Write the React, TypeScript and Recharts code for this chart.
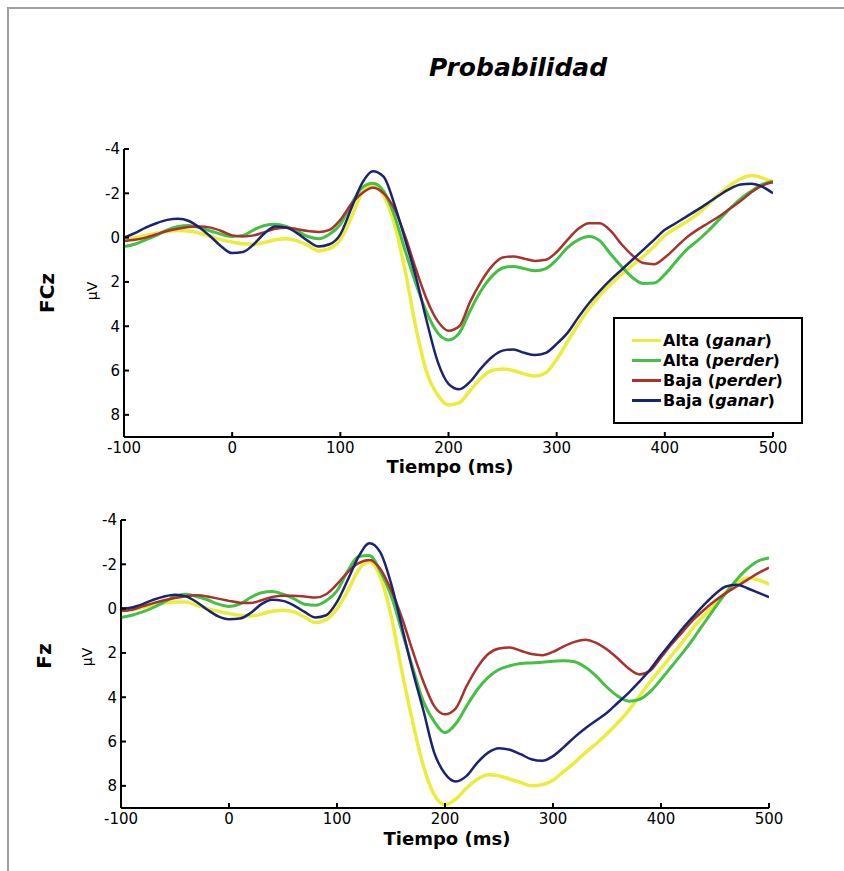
import { LineChart, Line, XAxis, YAxis } from 'recharts';

// tiempo en ms, paso de 10 ms
const tiempo = [
  -100, -90, -80, -70, -60, -50, -40, -30, -20, -10,
  0, 10, 20, 30, 40, 50, 60, 70, 80, 90,
  100, 110, 120, 130, 140, 150, 160, 170, 180, 190,
  200, 210, 220, 230, 240, 250, 260, 270, 280, 290,
  300, 310, 320, 330, 340, 350, 360, 370, 380, 390,
  400, 410, 420, 430, 440, 450, 460, 470, 480, 490, 500,
];
const xTicks = [-100, 0, 100, 200, 300, 400, 500];
const yTicks = [-4, -2, 0, 2, 4, 6, 8];

// FCz (µV)
const fczAltaGanar = [
  0.05, 0.0, -0.1, -0.2, -0.28, -0.32, -0.3, -0.2, -0.05, 0.1,
  0.2, 0.28, 0.3, 0.22, 0.1, 0.05, 0.15, 0.35, 0.6, 0.5,
  0.1, -0.9, -2.0, -2.38, -1.9, -0.6, 1.5, 4.1, 6.1, 7.1,
  7.55, 7.45, 6.9, 6.35, 6.0, 5.93, 6.0, 6.15, 6.25, 6.1,
  5.5, 4.7, 3.9, 3.2, 2.6, 2.1, 1.66, 1.25, 0.85, 0.4,
  -0.1, -0.42, -0.72, -1.05, -1.5, -1.95, -2.35, -2.65, -2.8, -2.7, -2.5,
];
const fczAltaPerder = [
  0.4, 0.3, 0.1, -0.1, -0.35, -0.5, -0.55, -0.45, -0.3, -0.15,
  -0.05, -0.1, -0.35, -0.55, -0.6, -0.5, -0.3, -0.05, 0.05, -0.15,
  -0.6, -1.5, -2.25, -2.45, -2.1, -1.0, 0.6, 2.1, 3.4, 4.3,
  4.62, 4.3, 3.3, 2.4, 1.75, 1.37, 1.3, 1.4, 1.5, 1.4,
  1.0, 0.45, 0.1, -0.05, 0.15, 0.75, 1.3, 1.8, 2.07, 2.05,
  1.66, 1.1, 0.55, 0.15, -0.3, -0.8, -1.3, -1.75, -2.1, -2.4, -2.55,
];
const fczBajaPerder = [
  0.15, 0.1, 0.0, -0.15, -0.3, -0.4, -0.48, -0.5, -0.45, -0.3,
  -0.1, -0.05, -0.1, -0.25, -0.4, -0.45, -0.38, -0.3, -0.25, -0.35,
  -0.8, -1.5, -2.0, -2.25, -2.0, -1.3, -0.05, 1.44, 2.8, 3.77,
  4.2, 4.0, 2.9, 2.0, 1.3, 0.9, 0.85, 0.95, 1.05, 1.0,
  0.65, 0.1, -0.4, -0.65, -0.65, -0.3, 0.3, 0.8, 1.15, 1.2,
  0.9, 0.45, 0.0, -0.35, -0.65, -0.95, -1.3, -1.65, -2.05, -2.35, -2.5,
];
const fczBajaGanar = [
  0.0, -0.2, -0.45, -0.65, -0.8, -0.85, -0.75, -0.45, -0.05, 0.4,
  0.7, 0.65, 0.3, -0.2, -0.5, -0.45, -0.2, 0.15, 0.4, 0.3,
  -0.15, -1.3, -2.45, -3.0, -2.75, -1.5, 0.1, 1.8, 3.8, 5.6,
  6.6, 6.85, 6.5, 5.9, 5.4, 5.1, 5.05, 5.2, 5.3, 5.2,
  4.8, 4.3, 3.6, 2.95, 2.4, 1.9, 1.45, 1.0, 0.55, 0.1,
  -0.35, -0.65, -0.95, -1.25, -1.57, -1.9, -2.2, -2.4, -2.43, -2.3, -2.0,
];

// Fz (µV)
const fzAltaGanar = [
  0.1, 0.05, -0.05, -0.15, -0.25, -0.3, -0.3, -0.15, 0.0, 0.12,
  0.22, 0.3, 0.33, 0.25, 0.12, 0.07, 0.15, 0.38, 0.63, 0.5,
  0.0, -0.8, -1.75, -2.1, -1.45, 0.3, 2.8, 5.1, 7.1, 8.4,
  8.85, 8.6, 8.1, 7.7, 7.5, 7.55, 7.7, 7.85, 8.0, 7.95,
  7.75, 7.35, 6.95, 6.5, 6.1, 5.65, 5.15, 4.6, 3.95, 3.3,
  2.7, 2.1, 1.5, 0.85, 0.3, -0.2, -0.75, -1.15, -1.38, -1.3, -1.1,
];
const fzAltaPerder = [
  0.4, 0.3, 0.15, -0.05, -0.3, -0.55, -0.65, -0.55, -0.4, -0.2,
  -0.1, -0.2, -0.5, -0.72, -0.77, -0.65, -0.45, -0.2, -0.15, -0.35,
  -0.8, -1.7, -2.35, -2.4, -1.7, -0.6, 1.0, 2.65, 4.2, 5.1,
  5.6, 5.2, 4.4, 3.65, 3.1, 2.75, 2.58, 2.48, 2.45, 2.42,
  2.38, 2.35, 2.4, 2.65, 3.05, 3.55, 3.95, 4.18, 4.1, 3.75,
  3.2, 2.6, 2.0, 1.35, 0.65, -0.05, -0.7, -1.3, -1.8, -2.15, -2.28,
];
const fzBajaPerder = [
  0.1, 0.05, -0.1, -0.25, -0.38, -0.48, -0.56, -0.6, -0.55, -0.45,
  -0.35, -0.27, -0.25, -0.38, -0.52, -0.58, -0.58, -0.55, -0.5, -0.65,
  -1.1, -1.65, -2.05, -2.2, -1.8, -0.85, 0.4, 1.9, 3.3, 4.4,
  4.77, 4.5, 3.5, 2.65, 2.05, 1.8, 1.75, 1.9, 2.05, 2.1,
  1.95, 1.7, 1.5, 1.4, 1.55, 1.85, 2.25, 2.7, 2.97, 2.8,
  2.2, 1.6, 1.05, 0.5, 0.05, -0.35, -0.7, -1.0, -1.3, -1.6, -1.85,
];
const fzBajaGanar = [
  0.0, -0.05, -0.2, -0.4, -0.55, -0.63, -0.55, -0.3, 0.05, 0.35,
  0.48, 0.45, 0.2, -0.2, -0.4, -0.35, -0.15, 0.15, 0.4, 0.3,
  -0.3, -1.3, -2.35, -2.95, -2.55, -1.15, 0.8, 2.8, 4.6, 6.5,
  7.45, 7.8, 7.55, 6.95, 6.5, 6.3, 6.37, 6.57, 6.8, 6.87,
  6.66, 6.25, 5.8, 5.4, 5.05, 4.7, 4.25, 3.8, 3.3, 2.75,
  2.1, 1.5, 0.9, 0.35, -0.18, -0.65, -1.0, -1.08, -0.92, -0.72, -0.52,
];

const series = [
  { key: 'altaGanar', cond: 'Alta', word: 'ganar', color: '#ecec3c', width: 3.5 },
  { key: 'altaPerder', cond: 'Alta', word: 'perder', color: '#44c044', width: 3 },
  { key: 'bajaPerder', cond: 'Baja', word: 'perder', color: '#a8322d', width: 2.5 },
  { key: 'bajaGanar', cond: 'Baja', word: 'ganar', color: '#1c2470', width: 2.5 },
];

const buildRows = (ag: number[], ap: number[], bp: number[], bg: number[]) =>
  tiempo.map((t, i) => ({ t, altaGanar: ag[i], altaPerder: ap[i], bajaPerder: bp[i], bajaGanar: bg[i] }));

const fczData = buildRows(fczAltaGanar, fczAltaPerder, fczBajaPerder, fczBajaGanar);
const fzData = buildRows(fzAltaGanar, fzAltaPerder, fzBajaPerder, fzBajaGanar);

const FONT = '"DejaVu Sans", Arial, sans-serif';
const tickStyle = { fill: '#000', fontSize: 15, fontFamily: FONT };
const axisStroke = { stroke: '#000', strokeWidth: 2 };

const abs = (x: number, y: number, extra: any = {}) => ({
  position: 'absolute' as const,
  left: x,
  top: y,
  transform: 'translate(-50%, -50%)',
  whiteSpace: 'nowrap' as const,
  fontFamily: FONT,
  color: '#000',
  ...extra,
});

const rot = { transform: 'translate(-50%, -50%) rotate(-90deg)' };

interface PanelProps {
  data: any[];
  top: number;
  height: number;
  margin: { top: number; right: number; bottom: number; left: number };
}

const Panel = ({ data, top, height, margin }: PanelProps) => (
  <div style={{ position: 'absolute', left: 0, top, width: 844, height }}>
    <LineChart width={844} height={height} data={data} margin={margin}>
      <XAxis
        type="number"
        dataKey="t"
        domain={[-100, 500]}
        ticks={xTicks}
        allowDataOverflow
        height={30}
        axisLine={axisStroke}
        tickLine={axisStroke}
        tickSize={-5}
        tickMargin={10}
        tick={tickStyle}
      />
      <YAxis
        type="number"
        domain={[-4, 9]}
        reversed
        ticks={yTicks}
        allowDataOverflow
        width={40}
        axisLine={axisStroke}
        tickLine={axisStroke}
        tickSize={-5}
        tickMargin={9}
        tick={tickStyle}
      />
      {series.map(s => (
        <Line
          key={s.key}
          type="monotone"
          dataKey={s.key}
          stroke={s.color}
          strokeWidth={s.width}
          dot={false}
          isAnimationActive={false}
        />
      ))}
    </LineChart>
  </div>
);

const Leyenda = () => (
  <div
    style={{
      position: 'absolute',
      left: 613,
      top: 317,
      width: 190,
      height: 107,
      boxSizing: 'border-box',
      border: '2px solid #000',
      background: '#fff',
      paddingTop: 11,
      fontFamily: FONT,
    }}
  >
    {series.map(s => (
      <div key={s.key} style={{ display: 'flex', alignItems: 'center', height: 20, paddingLeft: 17, whiteSpace: 'nowrap' }}>
        <div style={{ width: 29, height: 3, background: s.color, marginRight: 2, flexShrink: 0 }} />
        <span style={{ fontSize: 16, fontWeight: 'bold' }}>
          {s.cond} (<i>{s.word}</i>)
        </span>
      </div>
    ))}
  </div>
);

export default function App() {
  return (
    <div style={{ position: 'absolute', left: 0, top: 0, width: 844, height: 871, background: '#fff', overflow: 'hidden' }}>
      <div
        style={{
          position: 'absolute',
          left: 7,
          top: 7,
          width: 900,
          height: 900,
          borderTop: '2px solid #a0a0a0',
          borderLeft: '2px solid #a0a0a0',
        }}
      />
      <div style={abs(518, 67, { fontSize: 25, fontWeight: 'bold', fontStyle: 'italic' })}>Probabilidad</div>

      <Panel data={fczData} top={0} height={480} margin={{ top: 149, right: 71, bottom: 13, left: 84 }} />
      <Panel data={fzData} top={480} height={391} margin={{ top: 40, right: 75, bottom: 33, left: 81 }} />

      <div style={abs(450, 466, { fontSize: 18, fontWeight: 'bold' })}>Tiempo (ms)</div>
      <div style={abs(447, 838, { fontSize: 18, fontWeight: 'bold' })}>Tiempo (ms)</div>

      <div style={abs(47, 293, { fontSize: 20, fontWeight: 'bold', ...rot })}>FCz</div>
      <div style={abs(92, 291, { fontSize: 14, ...rot })}>μV</div>
      <div style={abs(44, 656, { fontSize: 20, fontWeight: 'bold', ...rot })}>Fz</div>
      <div style={abs(87, 657, { fontSize: 14, ...rot })}>μV</div>

      <Leyenda />
    </div>
  );
}
